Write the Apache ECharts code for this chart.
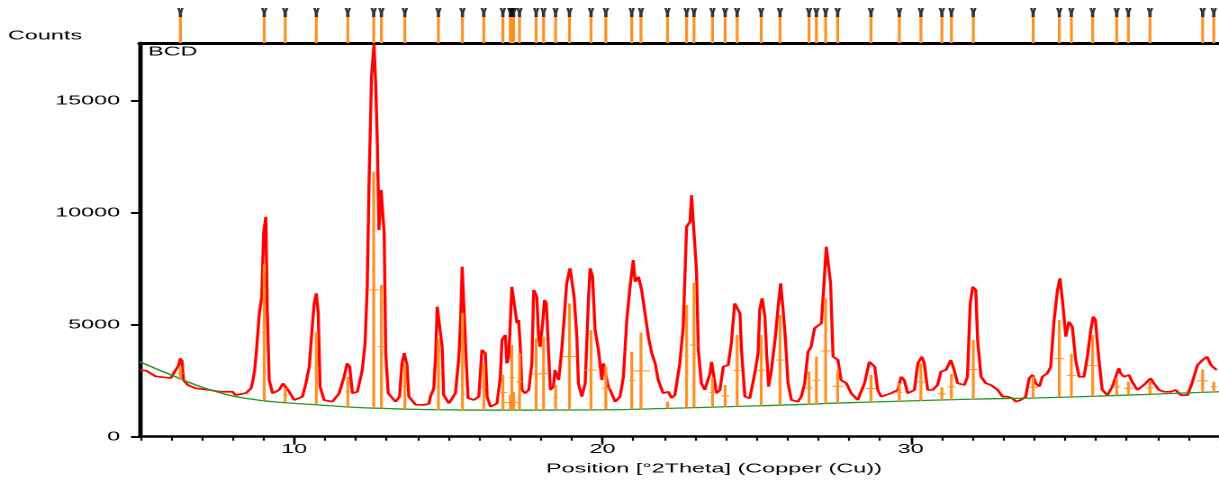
<!DOCTYPE html>
<html>
<head>
<meta charset="utf-8">
<script src="https://cdn.jsdelivr.net/npm/echarts@6/dist/echarts.min.js"></script>
<style>
  html, body { margin: 0; padding: 0; background: #fff; overflow: hidden; }
  /* the source plot is stretched sideways, so draw narrow and stretch it */
  #chart { width: 677px; height: 492px; transform: scaleX(1.8006); transform-origin: 0 0; }
</style>
</head>
<body>
<div id="chart"></div>
<script>
// tick labels
const xTicks = [10, 20, 30]
const yTicks = [0, 5000, 10000, 15000]

// measured profile [2theta, counts]
const profile = [
  [5.00,2980],[5.20,2950],[5.50,2700],[5.80,2650],[6.00,2620],[6.12,2900],[6.20,2850],[6.26,3200],[6.30,3500],[6.36,3400],
  [6.41,2530],[6.55,2310],[6.82,2160],[7.25,2090],[7.57,2010],[8.00,2010],[8.10,1860],[8.44,1950],[8.60,2160],[8.66,2500],
  [8.72,2980],[8.78,3880],[8.87,5520],[8.95,6260],[9.01,9100],[9.08,9830],[9.13,5520],[9.19,2530],[9.30,1940],[9.51,2090],
  [9.64,2380],[9.73,2460],[9.84,2010],[10.00,1640],[10.27,1790],[10.38,2380],[10.49,3130],[10.57,4620],[10.65,5960],[10.72,6410],
  [10.78,5520],[10.84,2240],[10.97,1640],[11.24,1565],[11.46,1940],[11.62,2680],[11.72,3280],[11.80,3130],[11.89,1940],[12.05,2010],
  [12.21,2980],[12.30,4170],[12.37,6700],[12.43,11400],[12.51,16100],[12.59,17550],[12.64,15950],[12.70,13040],[12.75,9240],[12.82,11030],
  [12.89,11100],[12.92,9100],[12.97,3740],[13.05,1940],[13.29,1565],[13.42,1790],[13.49,3200],[13.57,3740],[13.66,3200],[13.72,1790],
  [13.94,1430],[14.20,1420],[14.37,1470],[14.42,1790],[14.53,2160],[14.59,3650],[14.64,5810],[14.75,5890],[14.80,4020],[14.85,1860],
  [15.02,1490],[15.23,1940],[15.34,3500],[15.40,5220],[15.45,7600],[15.53,7530],[15.58,3430],[15.64,1730],[15.83,1640],[15.99,1790],
  [16.04,2830],[16.09,3880],[16.20,3730],[16.26,1790],[16.37,1340],[16.58,1490],[16.69,2680],[16.74,4320],[16.85,4550],[16.90,3280],
  [16.96,3580],[17.01,5070],[17.06,6700],[17.17,6630],[17.23,5070],[17.28,5220],[17.33,4170],[17.39,2090],[17.49,1940],[17.61,2090],
  [17.71,3280],[17.77,6560],[17.87,6260],[17.93,4470],[17.98,4020],[18.06,5070],[18.12,6110],[18.18,5960],[18.23,4470],[18.31,2090],
  [18.41,2240],[18.46,2980],[18.58,2530],[18.68,3880],[18.77,5520],[18.84,6860],[18.95,7530],[19.03,7450],[19.08,6260],[19.17,4470],
  [19.22,2390],[19.33,1790],[19.44,2390],[19.55,6260],[19.60,7530],[19.68,7150],[19.76,4770],[19.87,3880],[19.98,2530],[20.03,3280],
  [20.14,3280],[20.19,2240],[20.25,2090],[20.41,1565],[20.57,1790],[20.68,2680],[20.79,5220],[20.90,6780],[21.00,7900],[21.06,6930],
  [21.17,7150],[21.27,6560],[21.38,5520],[21.49,4470],[21.60,3730],[21.71,3280],[21.81,2530],[21.97,1940],[22.14,2010],[22.24,1730],
  [22.35,1860],[22.51,3280],[22.62,4920],[22.73,9390],[22.84,9610],[22.89,10800],[22.98,10880],[23.05,7450],[23.11,3880],[23.21,2390],
  [23.32,2090],[23.49,2830],[23.54,3350],[23.62,3280],[23.70,1940],[23.81,2090],[23.92,3130],[24.08,3200],[24.18,4170],[24.29,5960],
  [24.38,6040],[24.46,5520],[24.51,3880],[24.62,1790],[24.78,1715],[24.94,2830],[25.05,3730],[25.10,5670],[25.18,6190],[25.27,5370],
  [25.32,3880],[25.39,2240],[25.48,2980],[25.61,4470],[25.70,5810],[25.78,6860],[25.86,5670],[25.93,4470],[26.02,2390],[26.13,1640],
  [26.34,1565],[26.45,1790],[26.56,2390],[26.67,3800],[26.77,4020],[26.88,4850],[26.99,4920],[27.10,5070],[27.18,6700],[27.26,8490],
  [27.34,8490],[27.40,6860],[27.48,3580],[27.64,3430],[27.74,2530],[27.91,2390],[28.07,1940],[28.28,1640],[28.50,2390],[28.66,3350],
  [28.83,3130],[28.93,2090],[29.04,1790],[29.36,1940],[29.58,2090],[29.69,2680],[29.79,2530],[29.90,1940],[30.12,2090],[30.23,3280],
  [30.36,3580],[30.44,3280],[30.55,2090],[30.71,2090],[30.87,2310],[30.98,2910],[31.14,2980],[31.30,3430],[31.41,2980],[31.52,2390],
  [31.74,2310],[31.84,2680],[31.93,5960],[32.01,6700],[32.11,6560],[32.17,4320],[32.28,2680],[32.44,2390],[32.60,2310],[32.82,2090],
  [32.98,1790],[33.14,1790],[33.30,1715],[33.41,1565],[33.57,1640],[33.73,1790],[33.84,2610],[33.95,2760],[34.06,2380],[34.17,2240],
  [34.27,2680],[34.43,2830],[34.54,3130],[34.65,5220],[34.76,6560],[34.84,7080],[34.92,6110],[35.03,4470],[35.13,5140],[35.24,4920],
  [35.35,3430],[35.46,2680],[35.62,2680],[35.73,3580],[35.84,4770],[35.92,5370],[35.99,5220],[36.10,3500],[36.21,2090],[36.38,1860],
  [36.54,2240],[36.65,2680],[36.75,3060],[36.81,2830],[36.92,2680],[37.08,2760],[37.18,2460],[37.35,2090],[37.56,2310],[37.78,2610],
  [37.89,2380],[38.05,2090],[38.21,2010],[38.43,2010],[38.59,2090],[38.76,1860],[38.98,1860],[39.14,2460],[39.30,3200],[39.47,3430],
  [39.61,3580],[39.74,3200],[39.92,2980]
]

// fitted background
const background = [
  [5.0,3350],[5.5,3050],[6.0,2770],[6.5,2480],[7.0,2220],[7.5,2000],[8.0,1820],[8.5,1700],[9.0,1610],[9.5,1540],
  [10.0,1490],[11.0,1400],[12.0,1310],[13.0,1260],[14.0,1220],[15.0,1200],[16.0,1190],[18.0,1190],[20.0,1200],[22.0,1260],
  [24.0,1340],[26.0,1420],[28.0,1520],[30.0,1600],[32.0,1680],[34.0,1730],[36.0,1810],[38.0,1910],[40.0,2010]
]

// peak list: position, top, base, fwhm
const peakPos = [6.31, 9.03, 9.71, 10.72, 11.74, 12.58, 12.83, 13.59, 14.68, 15.46,
  16.15, 16.77, 17.01, 17.06, 17.12, 17.31, 17.85, 18.09, 18.48, 18.93,
  19.63, 20.11, 20.95, 21.25, 22.11, 22.73, 22.97, 23.57, 23.98, 24.37,
  25.15, 25.76, 26.70, 26.94, 27.24, 27.63, 28.71, 29.63, 30.33, 31.01,
  31.32, 32.03, 33.97, 34.82, 35.21, 35.90, 36.68, 37.06, 37.76, 39.47, 39.83]
const peakTop = [3130, 7700, 2170, 4690, 2680, 11850, 6780, 3280, 4400, 5520,
  3280, 2760, 1860, 4100, 2000, 3730, 4400, 4470, 2310, 5960,
  4770, 3130, 3800, 4650, 1565, 5890, 6880, 2610, 2310, 4550,
  4550, 5440, 2910, 3580, 6190, 3010, 2760, 2390, 3280, 2210,
  2800, 4320, 2680, 5220, 3700, 4550, 2610, 2460, 2460, 3010, 2460]
const peakBase = [2530, 1620, 1550, 1450, 1330, 1280, 1270, 1230, 1200, 1190,
  1190, 1190, 1190, 1190, 1190, 1190, 1190, 1190, 1190, 1200,
  1200, 1210, 1220, 1230, 1270, 1300, 1310, 1330, 1340, 1360,
  1390, 1410, 1450, 1460, 1480, 1500, 1550, 1580, 1610, 1640,
  1650, 1680, 1730, 1760, 1780, 1810, 1850, 1870, 1900, 1980, 2000]
const peakFwhm = [0.2, 0.16, 0.15, 0.17, 0.15, 0.35, 0.22, 0.16, 0.2, 0.16,
  0.16, 0.27, 0.5, 0.2, 0.15, 0.2, 0.27, 0.27, 0.15, 0.43,
  0.38, 0.27, 0.22, 0.6, 0.15, 0.16, 0.27, 0.2, 0.27, 0.27,
  0.27, 0.27, 0.22, 0.27, 0.32, 0.38, 0.32, 0.22, 0.22, 0.27,
  0.27, 0.27, 0.27, 0.32, 0.27, 0.32, 0.22, 0.32, 0.27, 0.38, 0.2]

const ORANGE = '#ff9124'
const FONT = 'Liberation Sans, Arial, sans-serif'

const sticks = peakPos.map((p, i) => [p, peakTop[i], peakBase[i], peakFwhm[i]])
const marks = peakPos.map(p => [p, 0.87])

const chart = echarts.init(document.getElementById('chart'), null, { devicePixelRatio: 2 })

const textStyle = { color: '#000', fontSize: 13, fontFamily: FONT }

const option = {
  animation: false,
  grid: [
    { left: 77.75, width: 600.6, top: 43, height: 393.7 },
    { left: 77.75, width: 600.6, top: 8, height: 35 }
  ],
  xAxis: [
    {
      gridIndex: 0, type: 'value', min: 5, max: 40, position: 'bottom',
      axisLine: { lineStyle: { color: '#000', width: 2.5 } },
      axisTick: { customValues: xTicks, length: 8, lineStyle: { color: '#000', width: 1.3 } },
      axisLabel: { customValues: xTicks, margin: 6, ...textStyle },
      splitLine: { show: false }
    },
    {
      // minor ticks every degree
      gridIndex: 0, type: 'value', min: 5, max: 40, interval: 1, position: 'bottom',
      axisLine: { show: false },
      axisTick: { length: 4, lineStyle: { color: '#000', width: 1.1 } },
      axisLabel: { show: false },
      splitLine: { show: false }
    },
    {
      gridIndex: 1, type: 'value', min: 5, max: 40, position: 'bottom',
      axisLine: { lineStyle: { color: '#000', width: 3 } },
      axisTick: { show: false },
      axisLabel: { show: false },
      splitLine: { show: false }
    }
  ],
  yAxis: [
    {
      gridIndex: 0, type: 'value', min: 0, max: 17600,
      axisLine: { show: true, lineStyle: { color: '#000', width: 2.4 } },
      axisTick: { show: true, customValues: yTicks, length: 5, lineStyle: { color: '#000', width: 2 } },
      axisLabel: { customValues: yTicks, margin: 11, formatter: v => String(v), ...textStyle },
      splitLine: { show: false }
    },
    { gridIndex: 1, type: 'value', min: 0, max: 1, show: false }
  ],
  graphic: [
    { type: 'text', x: 4.4, y: 36, style: { text: 'Counts', font: '13px ' + FONT, fill: '#000', textVerticalAlign: 'middle' } },
    { type: 'text', x: 82.2, y: 52, style: { text: 'BCD', font: '13px ' + FONT, fill: '#000', textVerticalAlign: 'middle' } },
    { type: 'text', x: 396.5, y: 469, style: { text: 'Position [°2Theta] (Copper (Cu))', font: '13px ' + FONT, fill: '#000', textAlign: 'center', textVerticalAlign: 'middle' } }
  ],
  series: [
    {
      name: 'profile', type: 'line', xAxisIndex: 0, yAxisIndex: 0,
      data: profile, showSymbol: false, z: 2,
      lineStyle: { color: '#ff0000', width: 1.7 }
    },
    {
      name: 'background', type: 'line', xAxisIndex: 0, yAxisIndex: 0,
      data: background, showSymbol: false, smooth: true, z: 3,
      lineStyle: { color: '#1f9a1f', width: 1.3 }
    },
    {
      name: 'peaks', type: 'custom', xAxisIndex: 0, yAxisIndex: 0, z: 4,
      data: sticks,
      encode: { x: 0, y: 1 },
      renderItem: (params, api) => {
        const x = api.value(0), top = api.value(1), base = api.value(2), w = api.value(3)
        const p0 = api.coord([x, base])
        const p1 = api.coord([x, top])
        const mid = (top + base) / 2
        const l = api.coord([x - w / 2, mid])
        const r = api.coord([x + w / 2, mid])
        return {
          type: 'group',
          children: [
            { type: 'line', shape: { x1: p0[0], y1: p0[1], x2: p1[0], y2: p1[1] }, style: { stroke: ORANGE, lineWidth: 1.6 } },
            { type: 'line', shape: { x1: l[0], y1: l[1], x2: r[0], y2: r[1] }, style: { stroke: ORANGE, lineWidth: 1 } }
          ]
        }
      }
    },
    {
      name: 'peak strip', type: 'custom', xAxisIndex: 2, yAxisIndex: 1,
      data: peakPos.map(p => [p]),
      encode: { x: 0 },
      renderItem: (params, api) => {
        const a = api.coord([api.value(0), 0])
        const b = api.coord([api.value(0), 0.75])
        return { type: 'line', shape: { x1: a[0], y1: a[1], x2: b[0], y2: b[1] }, style: { stroke: ORANGE, lineWidth: 1.6 } }
      }
    },
    {
      name: 'peak marks', type: 'scatter', xAxisIndex: 2, yAxisIndex: 1,
      data: marks,
      symbol: 'path://M0,0H2.5L3,2.5L3.5,0H6L4.5,4.5V9H1.5V4.5Z',
      symbolSize: [3.6, 9],
      itemStyle: { color: '#000' }
    }
  ]
}

chart.setOption(option)
</script>
</body>
</html>
